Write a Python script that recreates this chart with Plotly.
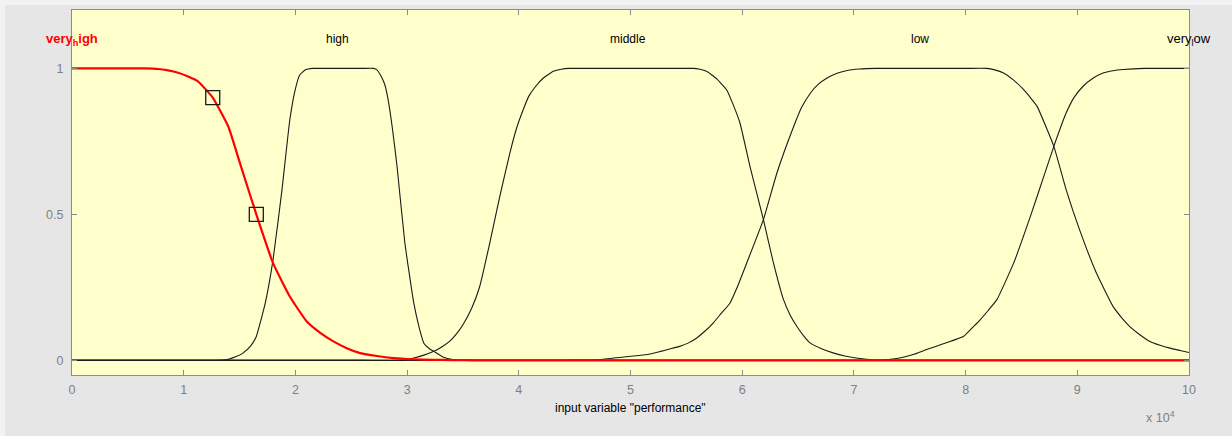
import plotly.graph_objects as go

# ---- data ----
vh_x = [0, 0.4, 0.65, 0.77, 0.86, 0.95, 1.04, 1.13, 1.26, 1.40, 1.50, 1.65, 1.80, 1.95, 2.10, 2.22, 2.34, 2.46, 2.58, 2.73, 2.88, 3.05, 3.23, 3.4, 3.6, 4.0, 10]
vh_y = [1, 1, 1, 0.998, 0.993, 0.985, 0.972, 0.955, 0.90, 0.80, 0.68, 0.50, 0.333, 0.219, 0.134, 0.095, 0.065, 0.042, 0.025, 0.015, 0.008, 0.004, 0.002, 0.001, 0, 0, 0]

high_x = [0, 1.0, 1.25, 1.33, 1.40, 1.47, 1.53, 1.60, 1.65, 1.73, 1.80, 1.88, 1.95, 2.00, 2.04, 2.09, 2.15, 2.25, 2.60, 2.70, 2.73, 2.76, 2.80, 2.83, 2.87, 2.91, 2.98, 3.06, 3.11, 3.15, 3.20, 3.24, 3.32, 3.41, 3.5, 3.7, 10]
high_y = [0, 0, 0, 0.001, 0.004, 0.013, 0.025, 0.05, 0.082, 0.196, 0.345, 0.585, 0.824, 0.93, 0.978, 0.995, 1, 1, 1, 1, 0.995, 0.978, 0.945, 0.893, 0.79, 0.664, 0.402, 0.196, 0.11, 0.059, 0.04, 0.031, 0.012, 0.003, 0.001, 0, 0]

mid_x = [0, 2.6, 2.94, 3.0, 3.06, 3.15, 3.24, 3.31, 3.38, 3.44, 3.50, 3.58, 3.65, 3.74, 3.83, 3.92, 3.98, 4.04, 4.09, 4.15, 4.22, 4.31, 4.38, 4.45, 4.6, 5.4, 5.56, 5.62, 5.68, 5.77, 5.86, 5.92, 5.98, 6.07, 6.19, 6.28, 6.37, 6.43, 6.49, 6.55, 6.61, 6.71, 6.82, 6.92, 7.02, 7.11, 7.20, 7.4, 10]
mid_y = [0, 0, 0, 0.003, 0.008, 0.018, 0.031, 0.046, 0.065, 0.09, 0.122, 0.18, 0.253, 0.402, 0.562, 0.71, 0.795, 0.859, 0.905, 0.938, 0.967, 0.99, 0.997, 1, 1, 1, 1, 0.997, 0.99, 0.965, 0.927, 0.875, 0.813, 0.664, 0.482, 0.333, 0.208, 0.155, 0.116, 0.084, 0.059, 0.04, 0.025, 0.015, 0.008, 0.004, 0.001, 0, 0]

low_x = [0, 4.3, 4.55, 4.70, 4.85, 5.0, 5.15, 5.27, 5.35, 5.44, 5.52, 5.59, 5.66, 5.74, 5.81, 5.89, 5.96, 6.04, 6.19, 6.31, 6.46, 6.53, 6.61, 6.68, 6.76, 6.85, 6.94, 7.05, 7.2, 8.0, 8.19, 8.26, 8.34, 8.43, 8.52, 8.58, 8.64, 8.79, 8.90, 9.02, 9.17, 9.32, 9.40, 9.47, 9.56, 9.65, 9.74, 9.83, 9.92, 10]
low_y = [0, 0, 0.001, 0.002, 0.008, 0.014, 0.02, 0.031, 0.039, 0.048, 0.06, 0.076, 0.098, 0.128, 0.16, 0.196, 0.255, 0.333, 0.482, 0.641, 0.80, 0.865, 0.915, 0.945, 0.967, 0.983, 0.993, 0.998, 1, 1, 1, 0.995, 0.984, 0.96, 0.927, 0.9, 0.87, 0.733, 0.585, 0.448, 0.30, 0.185, 0.145, 0.116, 0.088, 0.065, 0.052, 0.042, 0.034, 0.027]

vl_x = [0, 6.9, 7.2, 7.31, 7.41, 7.53, 7.65, 7.8, 7.98, 8.05, 8.13, 8.2, 8.28, 8.43, 8.58, 8.70, 8.79, 8.90, 8.97, 9.05, 9.14, 9.23, 9.32, 9.41, 9.6, 10]
vl_y = [0, 0, 0, 0.003, 0.008, 0.02, 0.037, 0.057, 0.082, 0.108, 0.139, 0.17, 0.208, 0.333, 0.493, 0.630, 0.733, 0.847, 0.9, 0.938, 0.966, 0.984, 0.992, 0.996, 1, 1]

handle_x = [1.26, 1.65]
handle_y = [0.90, 0.50]

mf_names = ["high", "middle", "low"]
mf_label_x = [2.38, 4.98, 7.59]

x_ticks = [0, 1, 2, 3, 4, 5, 6, 7, 8, 9, 10]
y_ticks = [0, 0.5, 1]
y_tick_text = ["0", "0.5", "1"]

# ---- figure ----
W, H = 1232, 436
L, R, T, B = 72, 43, 10, 61
pw, ph = W - L - R, H - T - B

def px(xp):
    return (xp - L) / pw

def py(yp):
    return (H - B - yp) / ph

fig = go.Figure()
line_style = dict(color="#1a1a1a", width=1.1, shape="spline", smoothing=0.4)
for xs, ys in [(high_x, high_y), (mid_x, mid_y), (low_x, low_y), (vl_x, vl_y)]:
    fig.add_trace(go.Scatter(x=xs, y=ys, mode="lines", line=line_style, hoverinfo="skip"))

fig.add_trace(go.Scatter(x=vh_x, y=vh_y, mode="lines",
                         line=dict(color="#ff0000", width=2.2, shape="spline", smoothing=0.4),
                         hoverinfo="skip"))
fig.add_trace(go.Scatter(x=handle_x, y=handle_y, mode="markers",
                         marker=dict(symbol="square-open", size=14, color="#1a1a1a",
                                     line=dict(width=1.3, color="#1a1a1a")),
                         hoverinfo="skip"))

tick_font = dict(family="Liberation Sans, Arial, sans-serif", size=12.5, color="#7f7f7f")
label_font = dict(family="Liberation Sans, Arial, sans-serif", size=12, color="#000000")

annotations = []
for name, lx in zip(mf_names, mf_label_x):
    annotations.append(dict(x=lx, y=1.1, xref="x", yref="y", text=name, showarrow=False,
                            font=label_font, xanchor="center", yanchor="middle"))
annotations.append(dict(x=0, y=1.1, xref="x", yref="y", text="<b>very<sub>h</sub>igh</b>",
                        showarrow=False, font=dict(family="Liberation Sans, Arial, sans-serif",
                                                   size=13, color="#ff0000"),
                        xanchor="center", yanchor="middle"))
annotations.append(dict(x=10, y=1.1, xref="x", yref="y", text="very<sub>l</sub>ow",
                        showarrow=False, font=dict(family="Liberation Sans, Arial, sans-serif",
                                                   size=13, color="#000000"),
                        xanchor="center", yanchor="middle"))
annotations.append(dict(x=px(630), y=py(408), xref="paper", yref="paper",
                        text='input variable "performance"', showarrow=False,
                        font=label_font, xanchor="center", yanchor="middle"))
annotations.append(dict(x=px(1160), y=py(417), xref="paper", yref="paper",
                        text="x 10<sup>4</sup>", showarrow=False,
                        font=tick_font, xanchor="center", yanchor="middle"))

# lighter strips at the very top and left edge of the window
shapes = [
    dict(type="rect", xref="paper", yref="paper", layer="below",
         x0=px(-2), x1=px(W + 2), y0=py(5), y1=py(-2),
         fillcolor="#f2f2f2", line=dict(width=0)),
    dict(type="rect", xref="paper", yref="paper", layer="below",
         x0=px(-2), x1=px(5), y0=py(H + 2), y1=py(-2),
         fillcolor="#f2f2f2", line=dict(width=0)),
]

fig.update_layout(
    width=W, height=H,
    margin=dict(l=L, r=R, t=T, b=B),
    paper_bgcolor="#e6e6e6",
    plot_bgcolor="#ffffcc",
    showlegend=False,
    annotations=annotations,
    shapes=shapes,
    xaxis=dict(range=[0, 10], tickvals=x_ticks, ticks="inside", ticklen=5, tickcolor="#8c8c8c",
               showline=True, linecolor="#8c8c8c", linewidth=1, mirror="ticks",
               showgrid=False, zeroline=False, tickfont=tick_font, ticklabelstandoff=3),
    yaxis=dict(range=[-0.05, 1.2], tickvals=y_ticks, ticktext=y_tick_text, ticks="inside",
               ticklen=5, tickcolor="#8c8c8c", showline=True, linecolor="#8c8c8c",
               linewidth=1, mirror="ticks", showgrid=False, zeroline=False, tickfont=tick_font,
               ticklabelstandoff=5),
)

fig.write_html("out.html")
